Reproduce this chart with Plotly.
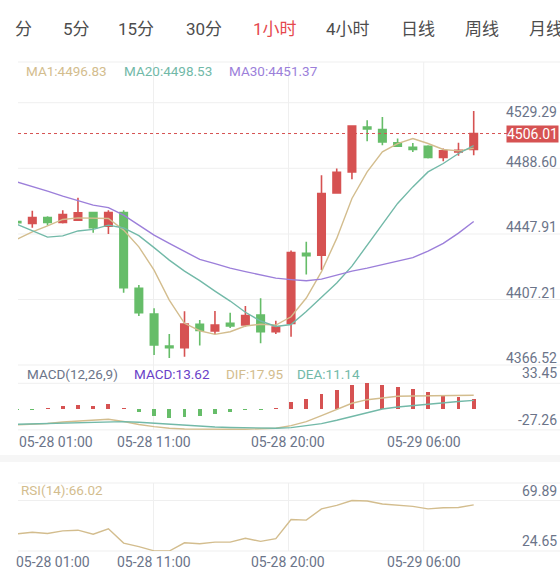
import plotly.graph_objects as go

# ---------------------------------------------------------------- data
tabs = ["分", "5分", "15分", "30分", "1小时", "4小时", "日线", "周线", "月线"]
active_tab = "1小时"
date_labels = ["05-28 01:00", "05-28 11:00", "05-28 20:00", "05-29 06:00"]

# hourly candles (red = up, green = down)
open_ = [4451.26, 4450.15, 4453.87, 4450.77, 4452.20, 4456.97, 4448.47, 4456.97,
         4409.80, 4393.85, 4373.99, 4372.93, 4387.52, 4383.30, 4388.08, 4387.02,
         4393.23, 4382.86, 4388.08, 4431.53, 4430.47, 4469.14, 4482.18, 4510.11,
         4508.49, 4500.18, 4497.51, 4498.13, 4491.11, 4494.59, 4496.08]
high = [4451.88, 4457.97, 4454.68, 4458.40, 4466.04, 4457.35, 4458.40, 4458.40,
        4411.85, 4397.39, 4381.44, 4395.53, 4390.13, 4395.71, 4394.66, 4398.82,
        4403.59, 4389.69, 4433.26, 4438.73, 4480.13, 4484.29, 4511.04, 4514.27,
        4516.31, 4502.91, 4500.18, 4498.75, 4496.70, 4500.30, 4520.04]
low = [4449.71, 4447.42, 4448.91, 4450.15, 4451.76, 4444.31, 4443.51, 4407.07,
       4392.61, 4368.40, 4366.52, 4367.35, 4374.30, 4381.44, 4385.16, 4385.97,
       4375.66, 4381.44, 4379.76, 4418.49, 4421.16, 4468.77, 4477.64, 4501.23,
       4498.75, 4497.69, 4494.59, 4490.49, 4488.82, 4492.23, 4492.54]
close = [4450.64, 4453.87, 4450.77, 4455.73, 4456.73, 4447.42, 4456.97, 4410.17,
         4394.66, 4374.61, 4372.93, 4387.64, 4383.61, 4387.02, 4386.40, 4392.92,
         4382.86, 4385.78, 4432.02, 4430.04, 4468.77, 4481.99, 4510.73, 4508.87,
         4500.80, 4498.13, 4496.08, 4491.11, 4495.21, 4495.64, 4506.01]

ma1 = [4440.40, 4444.93, 4448.66, 4452.63, 4453.62, 4453.25, 4453.25, 4445.99,
       4435.62, 4421.16, 4402.54, 4388.08, 4383.48, 4381.25, 4382.86, 4386.40,
       4387.52, 4387.02, 4392.17, 4403.78, 4420.23, 4440.84, 4465.66, 4482.18,
       4494.59, 4499.80, 4502.91, 4499.80, 4496.08, 4495.21, 4496.83]
ma20 = [4449.59, 4445.37, 4441.64, 4442.39, 4445.49, 4446.48, 4449.09, 4447.35,
        4442.57, 4435.13, 4427.37, 4420.54, 4414.64, 4408.13, 4401.92, 4394.97,
        4389.51, 4386.09, 4387.33, 4395.40, 4404.09, 4413.09, 4423.64, 4436.68,
        4450.15, 4462.56, 4472.86, 4482.18, 4487.39, 4493.60, 4498.53]
ma30 = [4475.97, 4473.30, 4470.20, 4467.09, 4464.17, 4461.51, 4459.95, 4455.30,
        4449.09, 4442.88, 4437.73, 4432.52, 4427.80, 4425.19, 4422.40, 4420.23,
        4418.06, 4416.19, 4415.26, 4414.52, 4415.57, 4418.06, 4420.54, 4422.40,
        4424.57, 4426.75, 4428.92, 4432.95, 4437.73, 4444.13, 4451.37]

macd_hist = [-1.0, -1.0, 1.1, 3.4, 5.1, 4.3, 6.4, 1.2, -3.3, -8.9, -11.9, -11.0,
             -9.3, -6.8, -4.2, -1.7, -1.0, 1.0, 8.5, 12.4, 19.6, 24.7, 30.7, 33.45,
             31.5, 28.7, 25.5, 22.3, 18.4, 15.6, 13.62]
dif = [-20.8, -20.2, -18.9, -16.9, -15.6, -14.3, -13.4, -16.3, -20.2, -23.0, -25.1,
       -26.0, -26.4, -26.6, -26.5, -26.4, -25.8, -25.1, -21.7, -16.5, -8.7, -0.4,
       7.4, 12.1, 14.7, 16.5, 16.8, 17.0, 17.3, 17.6, 17.95]
dea = [-19.9, -19.5, -18.9, -18.2, -17.6, -16.9, -16.5, -16.5, -17.3, -18.6, -19.9,
       -21.5, -22.5, -23.4, -24.1, -24.7, -25.1, -25.1, -24.3, -22.1, -19.1, -14.7,
       -9.5, -4.3, 0.0, 2.6, 4.6, 6.5, 8.2, 9.8, 11.14]

rsi = [39.96, 41.5, 40.3, 42.7, 43.3, 39.7, 44.6, 31.7, 28.6, 24.8, 24.65, 32.0,
       31.1, 32.6, 32.6, 36.0, 33.3, 35.7, 52.9, 52.3, 62.4, 65.5, 69.89, 69.5,
       66.7, 65.5, 64.6, 62.4, 63.4, 63.6, 66.02]

price_ticks = [4529.29, 4488.60, 4447.91, 4407.21, 4366.52]
macd_ticks = [33.45, -27.26]
rsi_ticks = [69.89, 24.65]

# ---------------------------------------------------------------- style
W, H = 560, 577
FONT = "Roboto, 'Noto Sans CJK SC', sans-serif"
RED, GREEN = "#d65252", "#66bd69"
TAN, TEAL, PURPLE = "#d3bd8e", "#72b9a8", "#9c7fda"
AXIS_TXT = "#6b7489"
GRID = "#efefef"


def fx(px):
    """screen column -> paper fraction"""
    return px / W


def fy(px):
    """screen row -> paper fraction"""
    return 1 - px / H


x_idx = list(range(len(close)))
x_dom = [fx(18), 1]
x_rng = [0.06, 35.67]

fig = go.Figure()

# main pane: candles + moving averages
fig.add_trace(go.Candlestick(
    x=x_idx, open=open_, high=high, low=low, close=close,
    increasing={"line": {"color": RED, "width": 1.6}, "fillcolor": RED},
    decreasing={"line": {"color": GREEN, "width": 1.6}, "fillcolor": GREEN},
    whiskerwidth=0, xaxis="x", yaxis="y", showlegend=False,
))
for series, color in [(ma1, TAN), (ma20, TEAL), (ma30, PURPLE)]:
    fig.add_trace(go.Scatter(x=x_idx, y=series, mode="lines", line={"color": color, "width": 1.4},
                             xaxis="x", yaxis="y", showlegend=False))

# MACD pane
fig.add_trace(go.Bar(x=x_idx, y=macd_hist, width=0.26,
                     marker={"color": [RED if v >= 0 else GREEN for v in macd_hist], "line": {"width": 0}},
                     xaxis="x2", yaxis="y2", showlegend=False))
fig.add_trace(go.Scatter(x=x_idx, y=dif, mode="lines", line={"color": TAN, "width": 1.4},
                         xaxis="x2", yaxis="y2", showlegend=False))
fig.add_trace(go.Scatter(x=x_idx, y=dea, mode="lines", line={"color": TEAL, "width": 1.4},
                         xaxis="x2", yaxis="y2", showlegend=False))

# RSI pane
fig.add_trace(go.Scatter(x=x_idx, y=rsi, mode="lines", line={"color": TAN, "width": 1.4},
                         xaxis="x3", yaxis="y3", showlegend=False))

hidden = {"visible": False, "fixedrange": True}
fig.update_layout(
    width=W, height=H,
    margin={"l": 0, "r": 0, "t": 0, "b": 0},
    paper_bgcolor="white", plot_bgcolor="rgba(0,0,0,0)",
    font={"family": FONT, "size": 14, "color": AXIS_TXT},
    bargap=0,
    xaxis={**hidden, "domain": x_dom, "range": x_rng, "anchor": "y", "rangeslider": {"visible": False}},
    xaxis2={**hidden, "domain": x_dom, "range": x_rng, "anchor": "y2"},
    xaxis3={**hidden, "domain": x_dom, "range": x_rng, "anchor": "y3"},
    yaxis={**hidden, "domain": [fy(365), fy(62)], "range": [4362.19, 4550.45], "anchor": "x"},
    yaxis2={**hidden, "domain": [fy(429.9), fy(365)], "range": [-27.26, 57.27], "anchor": "x2"},
    yaxis3={**hidden, "domain": [fy(551), fy(483)], "range": [24.65, 85.57], "anchor": "x3"},
)

# grid lines (evenly spaced, like the app)
shapes = []
for row in [62, 102.7, 168.3, 234.0, 299.5, 365, 383.3, 429.9, 483, 500.5, 551]:
    shapes.append({"type": "line", "xref": "paper", "yref": "paper", "x0": fx(18), "x1": 1,
                   "y0": fy(row), "y1": fy(row), "line": {"color": GRID, "width": 1}, "layer": "below"})
for col in [153.5, 288.5, 423.7]:
    for top, bottom in [(62, 429.9), (483, 551)]:
        shapes.append({"type": "line", "xref": "paper", "yref": "paper", "x0": fx(col), "x1": fx(col),
                       "y0": fy(top), "y1": fy(bottom), "line": {"color": GRID, "width": 1}, "layer": "below"})
# separator between MACD and RSI
shapes.append({"type": "rect", "xref": "paper", "yref": "paper", "x0": 0, "x1": 1,
               "y0": fy(462), "y1": fy(455), "fillcolor": "#f6f6f6", "line": {"width": 0}, "layer": "below"})
# last price dotted line
shapes.append({"type": "line", "xref": "paper", "yref": "y", "x0": fx(18), "x1": fx(508),
               "y0": close[-1], "y1": close[-1], "line": {"color": RED, "width": 1, "dash": "dot"}})
fig.update_layout(shapes=shapes)

ann = []


def text(x, y, s, color=AXIS_TXT, size=14, xanchor="left", yanchor="middle", **kw):
    ann.append({"x": x, "y": y, "text": s, "showarrow": False, "xanchor": xanchor, "yanchor": yanchor,
                "font": {"family": FONT, "size": size, "color": color}, "xref": kw.pop("xref", "paper"),
                "yref": kw.pop("yref", "paper"), **kw})


# tab bar (the last tab runs off the right edge, as in the app)
for name, cx in zip(tabs, [23, 76, 136, 204, 275, 348, 418, 482, 546]):
    text(fx(cx), fy(29), name, color="#e5484d" if name == active_tab else "#4d4d4d", size=17, xanchor="center")

# legends
text(fx(24), fy(71), f"MA1:{ma1[-1]:.2f}", TAN, 13.5)
text(fx(122), fy(71), f"MA20:{ma20[-1]:.2f}", TEAL, 13.5)
text(fx(227), fy(71), f"MA30:{ma30[-1]:.2f}", PURPLE, 13.5)
text(fx(25), fy(373.5), "MACD(12,26,9)", AXIS_TXT, 13.5)
text(fx(132), fy(373.5), f"MACD:{macd_hist[-1]:.2f}", "#6a3fc8", 13.5)
text(fx(224), fy(373.5), f"DIF:{dif[-1]:.2f}", TAN, 13.5)
text(fx(295), fy(373.5), f"DEA:{dea[-1]:.2f}", TEAL, 13.5)
text(fx(19), fy(490), f"RSI(14):{rsi[-1]:.2f}", TAN, 13.5)

# value labels
for v in price_ticks:
    text(fx(559), v, f"{v:.2f}", xanchor="right", yref="y", yshift=-16 if v == max(price_ticks) else 0)
for v in macd_ticks:
    text(fx(559), v, f"{v:.2f}", xanchor="right", yanchor="bottom", yref="y2")
for v in rsi_ticks:
    text(fx(559), v, f"{v:.2f}", xanchor="right", yanchor="bottom", yref="y3")
text(fx(559), close[-1], f"{close[-1]:.2f}", "white", xanchor="right", yref="y",
     bgcolor=RED, borderpad=0)

# date labels
for row, first_x in [(442, 17), (562, 14)]:
    text(fx(first_x), fy(row), date_labels[0])
    for lab, cx in zip(date_labels[1:], [153.5, 288.5, 423.7]):
        text(fx(cx), fy(row), lab, xanchor="center")

fig.update_layout(annotations=ann)
# the page body has a default margin that would shift the chart; drop it
fig.write_html("out.html", config={"displayModeBar": False, "staticPlot": True},
               post_script="document.body.style.margin='0';document.body.style.overflow='hidden';")
